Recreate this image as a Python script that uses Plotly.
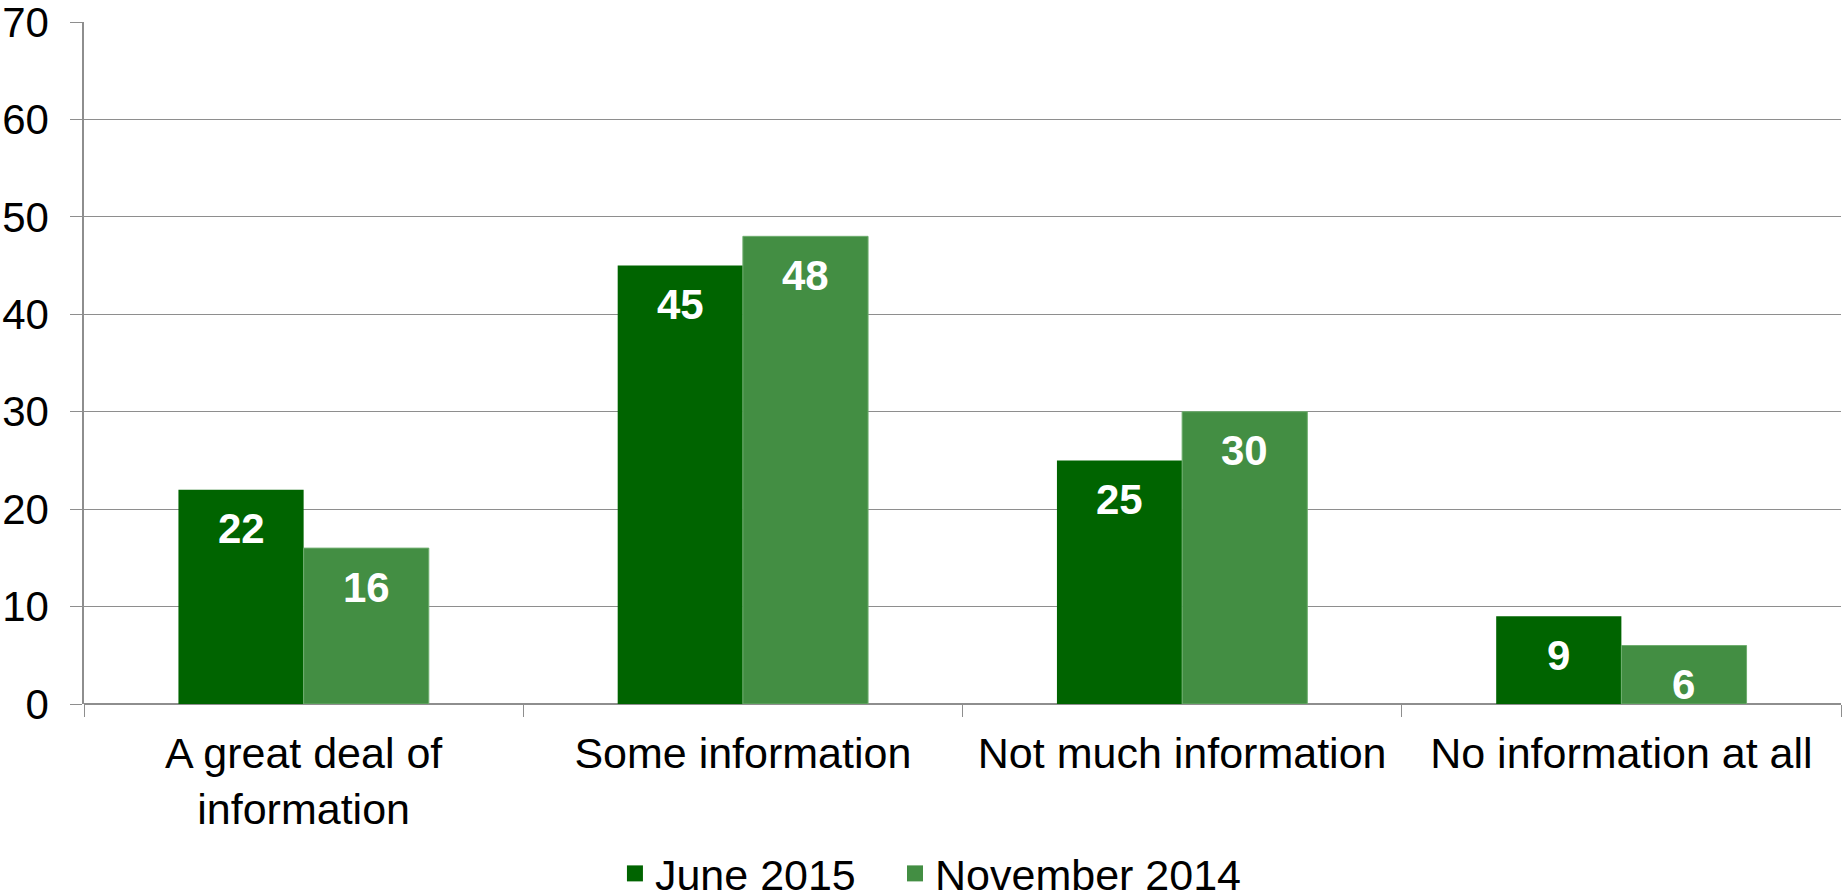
import plotly.graph_objs as go

categories = ["A great deal of<br>information", "Some information",
              "Not much information", "No information at all"]
june_2015 = [22, 45, 25, 9]
nov_2014 = [16, 48, 30, 6]
series_names = ["June 2015", "November 2014"]
colors = ['#006400', '#438e43']

FONT = "Liberation Sans, Arial, sans-serif"
BARGAP = 0.43

trace_june = go.Bar(
    x = categories,
    y = june_2015,
    name = series_names[0],
    showlegend = False,
    marker = {'color': colors[0], 'line': {'width': 0}}
)

trace_nov = go.Bar(
    x = categories,
    y = nov_2014,
    name = series_names[1],
    showlegend = False,
    marker = {'color': colors[1], 'line': {'color': '#6fae6f', 'width': 1}}
)

# empty traces only for the bigger square legend keys, one legend each
legend_traces = [
    go.Scatter(
        x = [None], y = [None], mode = 'markers', name = n, legend = lg,
        marker = {'symbol': 'square', 'size': 16, 'color': c}
    )
    for n, c, lg in zip(series_names, colors, ['legend', 'legend2'])
]

# value labels sit a fixed distance below each bar top
half = (1 - BARGAP) / 4
annotations = []
for i in range(len(categories)):
    for vals, off in ((june_2015, -half), (nov_2014, half)):
        annotations.append(dict(
            x = i + off, y = vals[i], xref = 'x', yref = 'y',
            text = '<b>%d</b>' % vals[i], showarrow = False,
            yanchor = 'middle', yshift = -39,
            font = {'family': FONT, 'size': 42, 'color': 'white'}
        ))

legend_style = {
    'orientation': 'h',
    'xref': 'container',
    'yref': 'container',
    'xanchor': 'left',
    'y': 0.023,
    'yanchor': 'middle',
    'font': {'size': 43},
    'itemwidth': 30,
}

layout = go.Layout(
    width = 1845,
    height = 894,
    barmode = 'group',
    bargap = BARGAP,
    bargroupgap = 0,
    plot_bgcolor = 'white',
    paper_bgcolor = 'white',
    font = {'family': FONT, 'size': 43, 'color': 'black'},
    margin = {'l': 84, 'r': 4, 't': 22, 'b': 190},
    xaxis = {
        'automargin': False,
        'tickson': 'boundaries',
        'ticks': 'outside',
        'ticklen': 12,
        'tickcolor': '#8e8e8e',
        'showgrid': False,
        'showline': False,
        'ticklabelstandoff': 20,
        'tickfont': {'size': 43},
    },
    yaxis = {
        'automargin': False,
        'range': [0, 70],
        'tickmode': 'linear',
        'tick0': 0,
        'dtick': 10,
        'ticks': 'outside',
        'ticklen': 12,
        'tickcolor': '#8e8e8e',
        'gridcolor': '#8e8e8e',
        'gridwidth': 1,
        'zeroline': True,
        'zerolinecolor': '#8e8e8e',
        'zerolinewidth': 1.5,
        'showline': True,
        'linecolor': '#8e8e8e',
        'linewidth': 1.5,
        'ticklabelstandoff': 13,
        'ticklabeloverflow': 'allow',
        'tickfont': {'size': 42},
    },
    legend = dict(legend_style, x = 0.3333),
    legend2 = dict(legend_style, x = 0.4851),
    annotations = annotations,
)

fig = go.Figure(data = [trace_june, trace_nov] + legend_traces, layout = layout)
# page body has an 8px default margin; drop it so the figure fills the window
fig.write_html("out.html", config = {'displayModeBar': False},
               post_script = "document.body.style.margin = '0';")
